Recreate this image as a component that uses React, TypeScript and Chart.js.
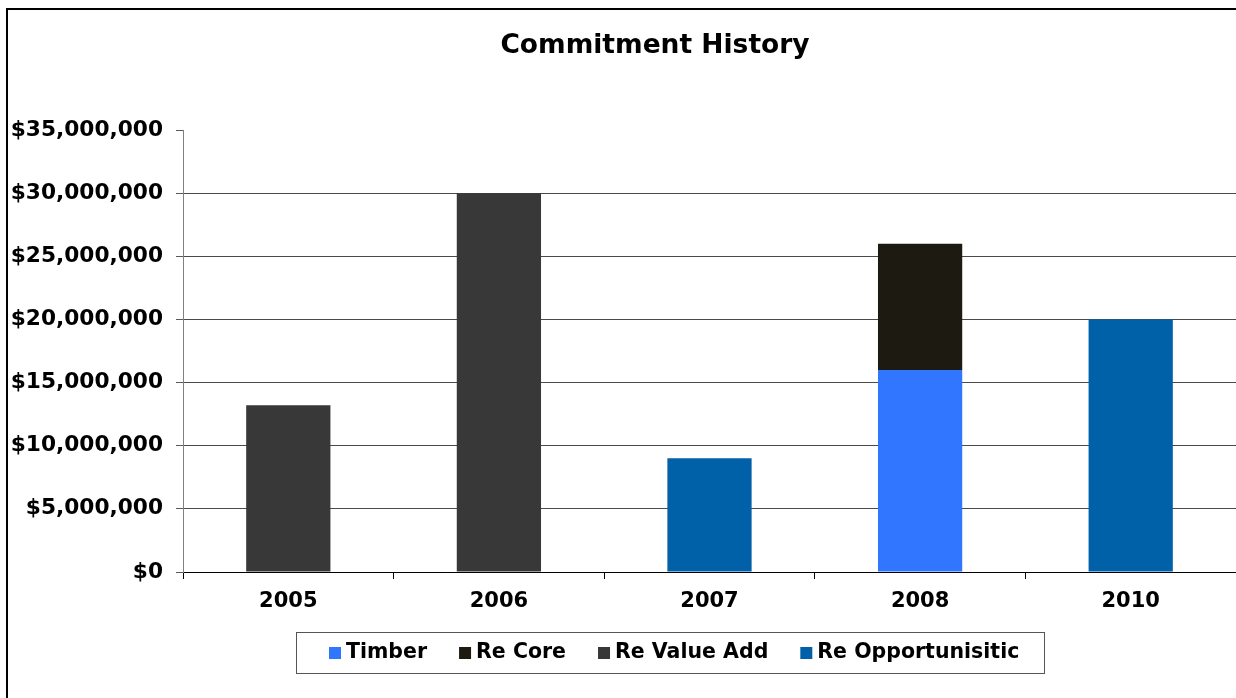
import React, { useEffect, useRef } from "react";
import { Chart, registerables } from "chart.js";

Chart.register(...registerables);

const categories = ["2005", "2006", "2007", "2008", "2010"];
const seriesNames = ["Timber", "Re Core", "Re Value Add", "Re Opportunisitic"];
const timber = [null, null, null, 16000000, null];
const reCore = [null, null, null, 10000000, null];
const reValueAdd = [13200000, 30000000, null, null, null];
const reOpportunistic = [null, null, 9000000, null, 20000000];
const seriesColors = ["#3176FF", "#1D1A12", "#383838", "#0060A8"];
const yMax = 35000000;
const yStep = 5000000;

const FONT = "'DejaVu Sans', Verdana, sans-serif";

const decorPlugin = {
  id: "decor",
  beforeDraw(chart: any) {
    const ctx = chart.ctx;
    ctx.save();
    ctx.fillStyle = "#ffffff";
    ctx.fillRect(0, 0, chart.width, chart.height);
    ctx.strokeStyle = "#000000";
    ctx.lineWidth = 2;
    ctx.beginPath();
    ctx.moveTo(7, chart.height + 10);
    ctx.lineTo(7, 9);
    ctx.lineTo(chart.width + 10, 9);
    ctx.stroke();
    ctx.restore();
  },
  afterDraw(chart: any) {
    const ctx = chart.ctx;
    ctx.save();
    // title
    ctx.fillStyle = "#000000";
    ctx.font = `bold 26.5px ${FONT}`;
    ctx.textAlign = "center";
    ctx.textBaseline = "middle";
    ctx.fillText("Commitment History", 655, 46);

    // legend
    ctx.font = `bold 20.5px ${FONT}`;
    ctx.textAlign = "left";
    const sq = 12;
    const gapText = 5;
    const gapItem = 32;
    const ds = chart.data.datasets;
    const widths = ds.map((d: any) => ctx.measureText(d.label).width);
    let total = 0;
    widths.forEach((w: number, i: number) => {
      total += sq + gapText + w + (i < widths.length - 1 ? gapItem : 0);
    });
    const padL = 33;
    const padR = 25;
    const boxW = Math.round(total + padL + padR);
    const boxCenter = 670;
    const boxL = Math.round(boxCenter - boxW / 2);
    const boxT = 632;
    const boxH = 41;
    ctx.strokeStyle = "#555555";
    ctx.lineWidth = 1;
    ctx.strokeRect(boxL + 0.5, boxT + 0.5, boxW, boxH);
    let x = boxL + padL;
    const cy = boxT + boxH / 2 + 0.5;
    ds.forEach((d: any, i: number) => {
      ctx.fillStyle = d.backgroundColor;
      ctx.fillRect(x, cy - sq / 2, sq, sq);
      x += sq + gapText;
      ctx.fillStyle = "#000000";
      ctx.fillText(d.label, x, cy);
      x += widths[i] + gapItem;
    });
    ctx.restore();
  },
};

export default function App() {
  const ref = useRef<HTMLCanvasElement | null>(null);
  useEffect(() => {
    document.body.style.margin = "0";
    document.body.style.overflow = "hidden";
    const canvas = ref.current!;
    const seriesData = [timber, reCore, reValueAdd, reOpportunistic];
    const chart = new Chart(canvas, {
      type: "bar",
      data: {
        labels: categories,
        datasets: seriesNames.map((name, i) => ({
          label: name,
          data: seriesData[i] as any,
          backgroundColor: seriesColors[i],
          borderWidth: 0,
          categoryPercentage: 1,
          barPercentage: 0.4,
        })),
      },
      options: {
        responsive: false,
        animation: false,
        devicePixelRatio: 1,
        layout: { padding: { top: 130, left: 0, right: 0, bottom: 0 } },
        plugins: {
          legend: { display: false },
          title: { display: false },
          tooltip: { enabled: false },
        },
        scales: {
          x: {
            stacked: true,
            offset: true,
            afterFit(scale: any) {
              scale.height = 126;
            },
            grid: {
              offset: true,
              drawOnChartArea: false,
              drawTicks: true,
              tickLength: 7,
              tickColor: "#000000",
              color: "#000000",
            },
            border: { color: "#000000", width: 1 },
            ticks: {
              color: "#000000",
              padding: 10,
              font: { family: FONT, size: 21, weight: "bold" },
            },
          },
          y: {
            stacked: true,
            min: 0,
            max: yMax,
            afterFit(scale: any) {
              scale.width = 183;
            },
            grid: {
              color: (c: any) =>
                c.tick && c.tick.value === yMax ? "rgba(0,0,0,0)" : "#4a4a4a",
              tickColor: "#5a5a5a",
              tickLength: 7,
              drawTicks: true,
            },
            border: { color: "#808080", width: 1 },
            ticks: {
              stepSize: yStep,
              color: "#000000",
              padding: 13,
              font: { family: FONT, size: 21.7, weight: "bold" },
              callback: (v: any) => "$" + Number(v).toLocaleString("en-US"),
            },
          },
        },
      },
      plugins: [decorPlugin],
    });
    return () => chart.destroy();
  }, []);
  return (
    <div style={{ position: "fixed", left: 0, top: 0, width: 1236, height: 698 }}>
      <canvas ref={ref} width={1236} height={698} />
    </div>
  );
}
